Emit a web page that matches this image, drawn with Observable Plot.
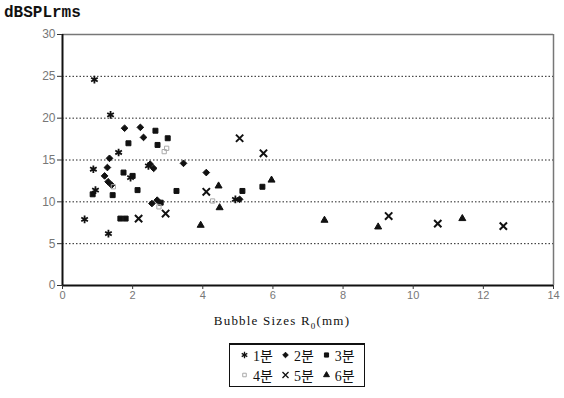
<!DOCTYPE html>
<html><head><meta charset="utf-8">
<script src="https://cdn.jsdelivr.net/npm/d3@7"></script>
<script src="https://cdn.jsdelivr.net/npm/@observablehq/plot@0.6"></script>
<style>
body{margin:0;background:#fff;width:564px;height:398px;overflow:hidden;position:relative;font-family:"Liberation Serif",serif}
#chart{position:absolute;left:0;top:0}
#ylab{position:absolute;left:4px;top:4px;font:bold 16px "Liberation Mono",monospace;color:#111;letter-spacing:0px}
#xlab{position:absolute;left:0;width:564px;top:313px;text-align:center;font:13px "Liberation Serif",serif;letter-spacing:1.2px;color:#111}
#legend{position:absolute;left:229px;top:343px;width:136px;height:44px;border:1px solid #111;border-top:2px solid #111;box-sizing:border-box;font:14px "Liberation Serif","Noto Sans CJK KR",serif;color:#111;white-space:nowrap}
.row{display:flex;align-items:center;height:20px;padding-left:10px;white-space:nowrap}
.item{display:flex;align-items:center;margin-right:8px;flex-shrink:0;white-space:nowrap}
.item svg{margin-right:4px;flex-shrink:0}
</style></head><body>
<div id="chart"></div>
<div id="ylab">dBSPLrms</div>
<div id="xlab">Bubble Sizes R<sub style="font-size:9px">0</sub>(mm)</div>
<div id="legend"></div>
<script>
// Series names
const seriesNames = ["1분", "2분", "3분", "4분", "5분", "6분"];
// Bubble size R0 (mm) and dBSPLrms per series
const x1 = [0.91, 1.37, 1.31, 0.63, 0.94, 0.88, 1.60, 1.94, 2.45, 4.93];
const y1 = [24.6, 20.4, 6.2, 7.9, 11.4, 13.9, 15.9, 12.9, 14.3, 10.3];
const x2 = [1.77, 2.22, 2.31, 1.34, 3.45, 4.10, 1.28, 1.20, 1.30, 1.40, 2.50, 2.60, 2.70, 2.55, 5.05];
const y2 = [18.8, 18.9, 17.7, 15.2, 14.6, 13.5, 14.1, 13.1, 12.4, 12.0, 14.5, 14.0, 10.2, 9.8, 10.3];
const x3 = [2.65, 3.00, 2.71, 1.88, 1.43, 1.65, 1.80, 3.25, 5.13, 5.70, 1.74, 2.00, 2.14, 0.86, 2.80];
const y3 = [18.5, 17.6, 16.8, 17.0, 10.8, 8.0, 8.0, 11.3, 11.3, 11.8, 13.5, 13.1, 11.4, 10.9, 9.9];
const x4 = [2.97, 2.90, 1.45, 4.28, 2.75];
const y4 = [16.4, 16.0, 11.8, 10.1, 9.4];
const x5 = [9.30, 10.70, 12.57, 5.73, 4.10, 2.17, 5.05, 2.94];
const y5 = [8.3, 7.4, 7.1, 15.8, 11.2, 8.0, 17.6, 8.6];
const x6 = [3.94, 5.96, 7.47, 9.00, 11.40, 4.45, 4.48];
const y6 = [7.2, 12.6, 7.8, 7.0, 8.0, 11.9, 9.3];
// Axis ticks
const xTicks = [0, 2, 4, 6, 8, 10, 12, 14];
const yTicks = [0, 5, 10, 15, 20, 25, 30];
const gridY = [5, 10, 15, 20, 25];

const xs = [x1, x2, x3, x4, x5, x6];
const ys = [y1, y2, y3, y4, y5, y6];
const styles = [
  {symbol: "asterisk", fill: "none", stroke: "#111", r: 3.6, sw: 1.8},
  {symbol: "diamond2", fill: "#111", stroke: "#111", r: 3.0, sw: 1},
  {symbol: "square", fill: "#111", stroke: "#111", r: 2.8, sw: 1},
  {symbol: "square", fill: "none", stroke: "#aaa", r: 2.4, sw: 1},
  {symbol: "times", fill: "none", stroke: "#111", r: 3.4, sw: 2},
  {symbol: "triangle", fill: "#111", stroke: "#111", r: 2.6, sw: 1}
];

const data = [];
seriesNames.forEach((s, i) => xs[i].forEach((x, j) => data.push({series: s, x, y: ys[i][j]})));

const marks = [
  Plot.ruleY(gridY, {stroke: "#222", strokeWidth: 1, strokeDasharray: "1.5,2"}),
  Plot.ruleY([30], {stroke: "#777", strokeWidth: 1.5}),
  Plot.ruleX([14], {stroke: "#777", strokeWidth: 1.5}),
  Plot.ruleX([0], {stroke: "#111", strokeWidth: 2}),
  Plot.ruleY([0], {stroke: "#111", strokeWidth: 2}),
  Plot.axisX({ticks: xTicks, tickSize: 4, tickPadding: 2, label: null, fontSize: 11, color: "#777", stroke: "#333"}),
  Plot.axisY({ticks: yTicks, tickSize: 5, tickPadding: 2, label: null, fontSize: 12, color: "#777", stroke: "#333"})
];
seriesNames.forEach((s, i) => {
  const st = styles[i];
  marks.push(Plot.dot(data.filter(d => d.series === s), {
    x: "x", y: "y", symbol: () => st.symbol, r: st.r, fill: st.fill, stroke: st.stroke, strokeWidth: st.sw
  }));
});

const chart = Plot.plot({
  width: 564, height: 338,
  marginTop: 34, marginLeft: 62, marginRight: 11, marginBottom: 53,
  style: {fontFamily: "Liberation Sans, sans-serif", background: "#fff"},
  x: {domain: [0, 14]},
  y: {domain: [0, 30]},
  symbol: {type: "identity"},
  marks
});
document.getElementById("chart").appendChild(chart);

// Legend (2 rows x 3 items)
const leg = document.getElementById("legend");
const symMap = {asterisk: d3.symbolAsterisk, diamond2: d3.symbolDiamond2, square: d3.symbolSquare, times: d3.symbolTimes, triangle: d3.symbolTriangle};
[[0, 1, 2], [3, 4, 5]].forEach(rowIdx => {
  const row = document.createElement("div");
  row.className = "row";
  rowIdx.forEach(i => {
    const st = styles[i];
    const item = document.createElement("div");
    item.className = "item";
    const svg = d3.create("svg").attr("width", 9).attr("height", 10);
    svg.append("path").attr("transform", "translate(4.5,5)")
      .attr("d", d3.symbol(symMap[st.symbol], Math.PI * st.r * st.r * 0.7)())
      .attr("fill", st.fill).attr("stroke", st.stroke).attr("stroke-width", Math.min(st.sw, 1.3));
    item.appendChild(svg.node());
    const t = document.createElement("span");
    t.textContent = seriesNames[i];
    item.appendChild(t);
    row.appendChild(item);
  });
  leg.appendChild(row);
});
</script>
</body></html>
